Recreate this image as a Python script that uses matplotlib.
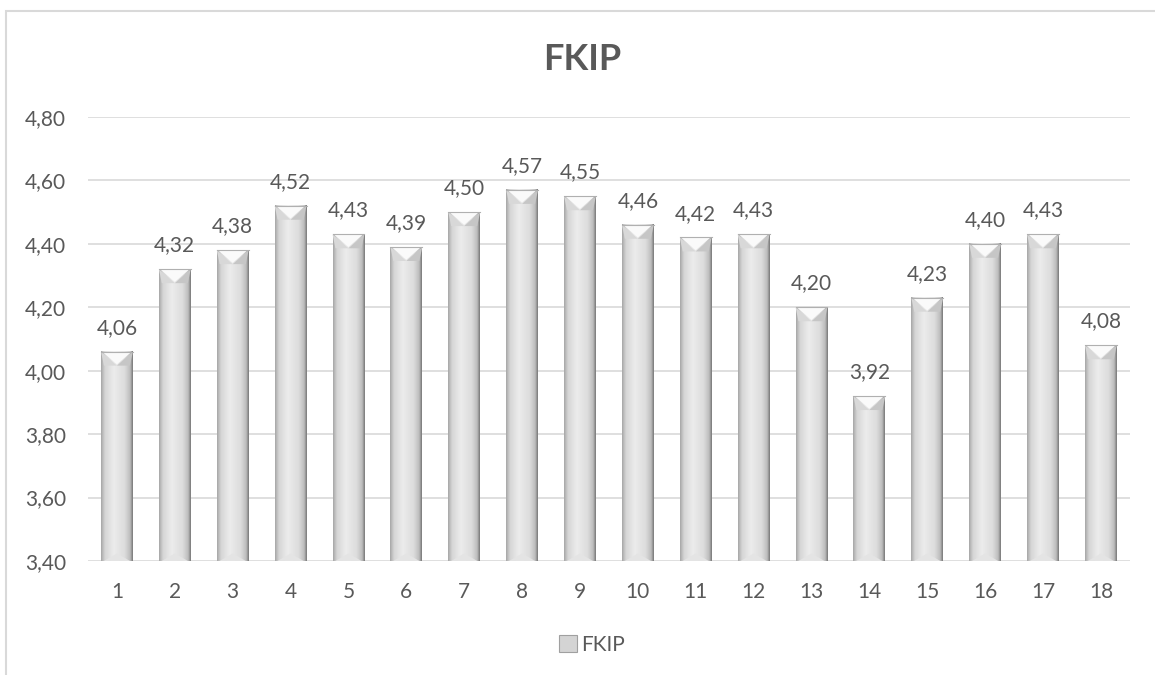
import matplotlib.pyplot as plt
import numpy as np
from matplotlib.colors import LinearSegmentedColormap
from matplotlib.patches import Polygon, Rectangle

plt.rcParams['font.family'] = ['Lato', 'DejaVu Sans']

# data
kategori = [str(i) for i in range(1, 19)]
nilai = [4.06, 4.32, 4.38, 4.52, 4.43, 4.39, 4.50, 4.57, 4.55,
         4.46, 4.42, 4.43, 4.20, 3.92, 4.23, 4.40, 4.43, 4.08]
yticks = [3.40, 3.60, 3.80, 4.00, 4.20, 4.40, 4.60, 4.80]

abu = '#595959'
fig = plt.figure(figsize=(11.55, 6.75), dpi=100)
ax = fig.add_axes([0.0762, 0.1689, 0.902, 0.6578])

# border of chart area
fig.patches.append(Rectangle((6/1155, -0.1), 1.2, 1 - 11/675 + 0.1,
                             transform=fig.transFigure, fill=False,
                             edgecolor='#d9d9d9', lw=1.5))

cmap = LinearSegmentedColormap.from_list('bar', [
    (0.0, '#a8a8a8'), (0.12, '#d6d6d6'), (0.4, '#ececec'),
    (0.75, '#dcdcdc'), (0.92, '#bdbdbd'), (1.0, '#7a7a7a')])
grad = np.linspace(0, 1, 64).reshape(1, -1)

lebar = 0.55
ymin, ymax = 3.4, 4.8
d = 0.04
x = np.arange(len(nilai))
for xi, v in zip(x, nilai):
    x0, x1 = xi - lebar / 2, xi + lebar / 2
    ax.imshow(grad, extent=[x0, x1, ymin, v], aspect='auto', cmap=cmap,
              zorder=2, interpolation='bilinear')
    # bevel top
    ax.add_patch(Polygon([[x0, v], [x0 + 0.05, v - d * 1.1], [xi, v - d * 1.1]], closed=True,
                         facecolor='#d8d8d8', edgecolor='none', zorder=3))
    ax.add_patch(Polygon([[x1, v], [x1 - 0.05, v - d * 1.1], [xi, v - d * 1.1]], closed=True,
                         facecolor='#c6c6c6', edgecolor='none', zorder=3))
    ax.add_patch(Polygon([[x0 + 0.02, v], [x1 - 0.02, v], [xi, v - d]], closed=True,
                         facecolor='#fafafa', edgecolor='none', zorder=3))
    ax.plot([x0, x1], [v, v], color='#b0b0b0', lw=0.8, zorder=4)
    # bevel bottom
    ax.add_patch(Polygon([[x0 + 0.05, ymin], [x1 - 0.05, ymin], [xi, ymin + d * 0.6]],
                         closed=True, facecolor='#e4e4e4', edgecolor='none', zorder=3))
    ax.annotate(f'{v:.2f}'.replace('.', ','), (xi, v), xytext=(0, 10),
                textcoords='offset points', ha='center', va='bottom',
                fontsize=15, color=abu)

ax.set_xlim(-0.5, len(nilai) - 0.5)
ax.set_ylim(ymin, ymax)
ax.set_xticks(x)
ax.set_xticklabels(kategori)
ax.set_yticks(yticks)
ax.set_yticklabels([f'{t:.2f}'.replace('.', ',') for t in yticks])
ax.tick_params(axis='both', length=0, labelsize=15, labelcolor=abu)
ax.tick_params(axis='x', pad=15)
ax.tick_params(axis='y', pad=16)
ax.grid(axis='y', color='#d9d9d9', lw=1.2, zorder=0)
ax.set_axisbelow(True)
for s in ax.spines.values():
    s.set_visible(False)

fig.text(582/1155, 1 - 59/675, 'FKIP', ha='center', va='center',
         fontsize=26, fontweight='bold', color=abu)

leg_patch = Rectangle((0, 0), 1, 1, facecolor='#d4d4d4', edgecolor='#a0a0a0', lw=0.8)
fig.legend([leg_patch], ['FKIP'], loc='center', bbox_to_anchor=(592/1155, 1 - 645/675),
           frameon=False, fontsize=15, labelcolor=abu, handlelength=0.9,
           handleheight=0.9, handletextpad=0.2)

fig.savefig('out.png', dpi=100, facecolor='white')
